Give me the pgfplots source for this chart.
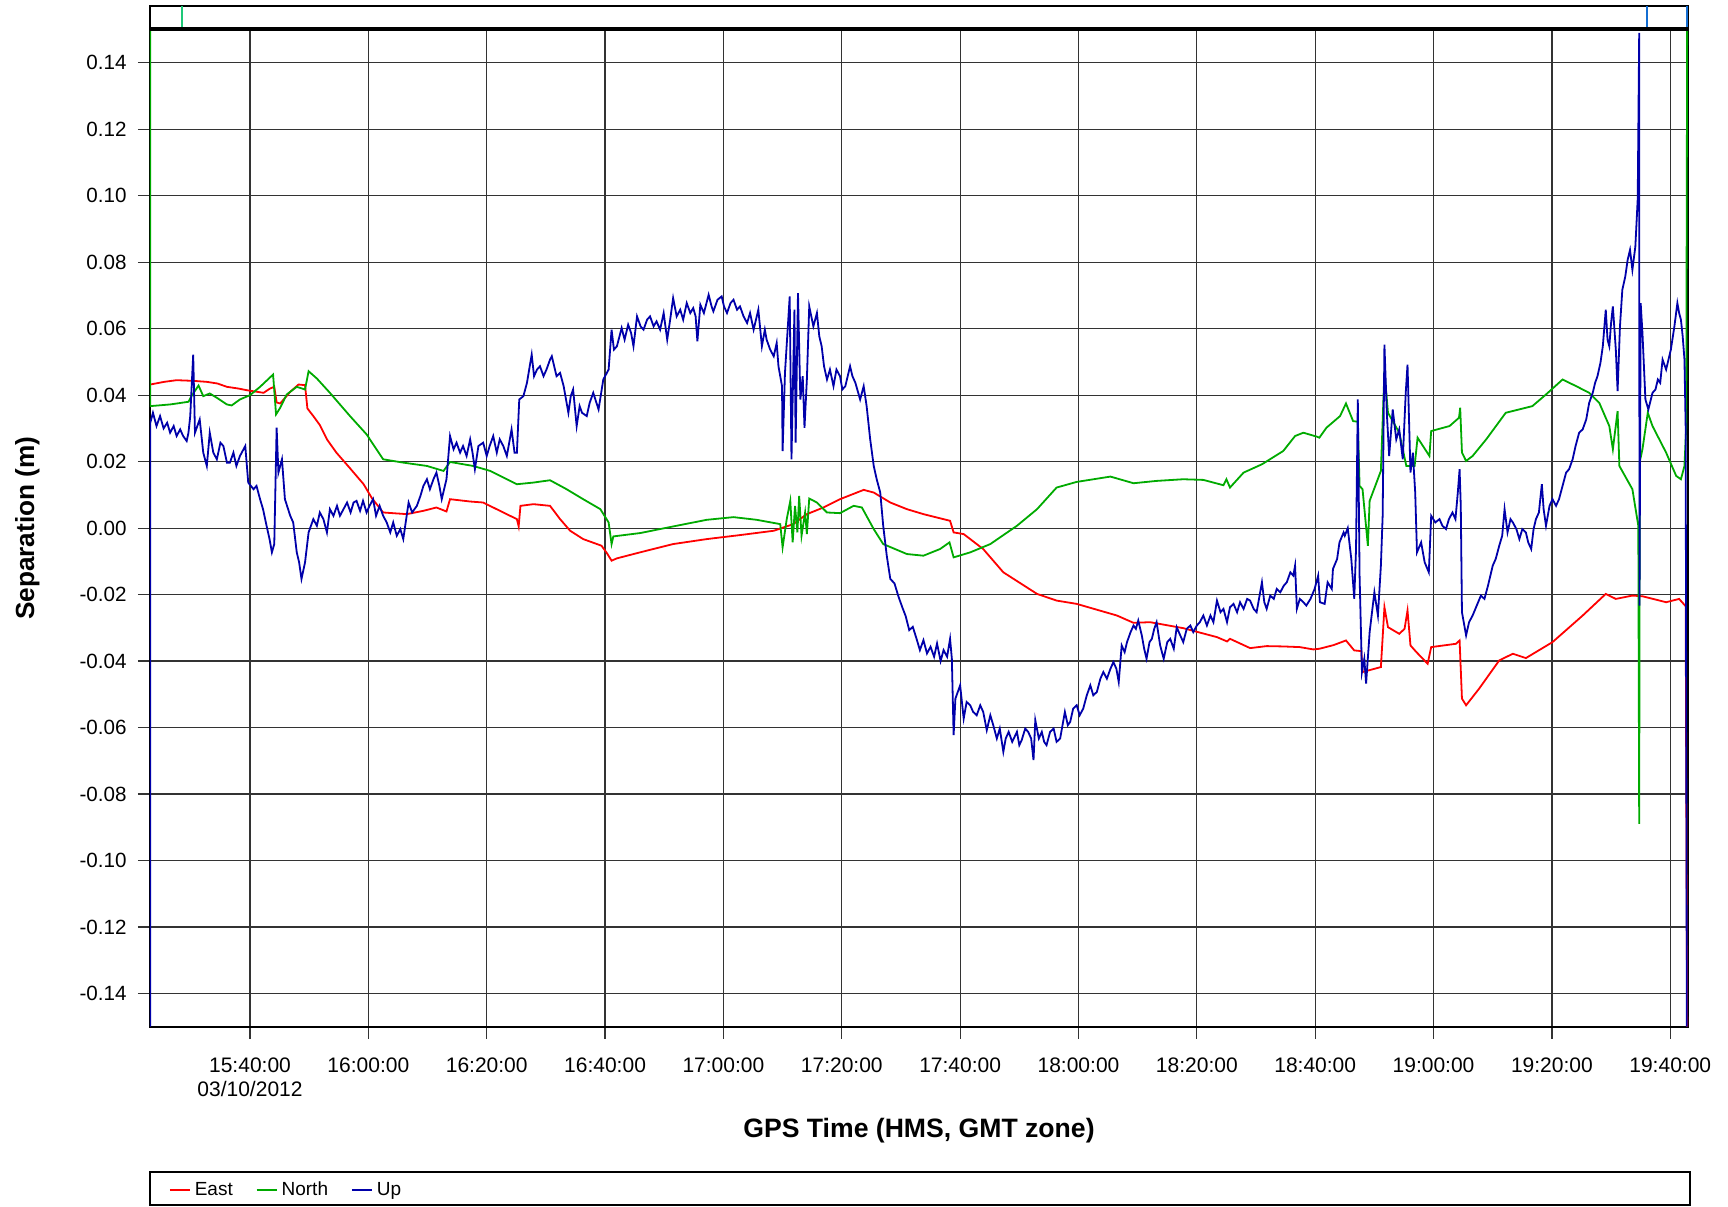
\documentclass[border=0pt]{standalone}
\usepackage{pgfplots}
\pgfplotsset{compat=1.18}
\usepackage{fontspec}
\setmainfont{Liberation Sans}
\definecolor{eastc}{RGB}{255,0,0}
\definecolor{northc}{RGB}{0,170,0}
\definecolor{upc}{RGB}{0,0,170}
\definecolor{stripg}{RGB}{30,200,120}
\definecolor{stripb}{RGB}{20,110,210}
\begin{document}
\begin{tikzpicture}
\useasboundingbox (-75pt,-89.65pt) rectangle (789pt,513.35pt);
\begin{axis}[
  name=main, at={(0,0)}, anchor=south west,
  scale only axis, width=769pt, height=498.6pt,
  xmin=23.1, xmax=283.0, ymin=-0.15, ymax=0.15,
  xtick={40,60,80,100,120,140,160,180,200,220,240,260,280},
  xticklabels={{15:40:00\\03/10/2012},16:00:00,16:20:00,16:40:00,17:00:00,17:20:00,17:40:00,18:00:00,18:20:00,18:40:00,19:00:00,19:20:00,19:40:00},
  ytick={-0.14,-0.12,-0.10,-0.08,-0.06,-0.04,-0.02,0,0.02,0.04,0.06,0.08,0.10,0.12,0.14},
  yticklabels={-0.14,-0.12,-0.10,-0.08,-0.06,-0.04,-0.02,0.00,0.02,0.04,0.06,0.08,0.10,0.12,0.14},
  tick pos=left, tick align=outside, major tick length=6pt,
  grid=major, major grid style={black!80, line width=0.6pt},
  tick style={black!80, line width=0.6pt},
  axis line style={line width=1pt},
  xticklabel style={align=center, font=\fontsize{10.5}{12.2}\selectfont, yshift=-6pt},
  yticklabel style={font=\fontsize{10.3}{12}\selectfont, xshift=-2.2pt},
  xlabel={GPS Time (HMS, GMT zone)},
  ylabel={Separation (m)},
  every axis x label/.style={at={(axis description cs:0.5,-0.1041)}, anchor=center, font=\bfseries\fontsize{13.3}{15}\selectfont},
  every axis y label/.style={at={(axis description cs:-0.0797,0.5)}, rotate=90, anchor=center, font=\bfseries\fontsize{13.1}{15}\selectfont},
  legend style={at={(axis description cs:0,-0.1639)}, anchor=west, xshift=9.3pt, draw=none, fill=none, inner sep=0pt, font=\fontsize{9.5}{11}\selectfont, legend columns=-1, /tikz/every even column/.append style={column sep=9.5pt}},
  legend image code/.code={\draw[#1] (0pt,0pt) -- (10pt,0pt);},
  every axis plot/.append style={line width=0.9pt},
]
\addplot[eastc] coordinates {(23.15,0.0432)(25.5,0.044)(27.6,0.0445)(30.4,0.0443)(32.7,0.044)(34.5,0.0435)(36.1,0.0425)(38.0,0.042)(39.4,0.0415)(42.3,0.0407)(43.4,0.042)(44.1,0.0425)(44.5,0.0378)(45.1,0.0375)(46.8,0.041)(48.2,0.0432)(49.3,0.043)(49.7,0.036)(50.7,0.0337)(51.8,0.031)(53.0,0.0267)(54.6,0.0227)(56.9,0.018)(59.2,0.0132)(60.6,0.009)(62.5,0.0047)(66.5,0.0042)(69.3,0.0052)(71.5,0.0062)(73.2,0.005)(73.8,0.0087)(77.2,0.008)(79.4,0.0077)(82.8,0.0047)(85.1,0.0027)(85.4,0.0005)(85.7,0.0067)(87.9,0.0072)(90.7,0.0067)(92.4,0.0027)(94.1,-0.0008)(96.3,-0.0033)(99.4,-0.0053)(100.3,-0.0075)(101.1,-0.0098)(102.0,-0.0091)(105.9,-0.0073)(111.5,-0.0048)(117.2,-0.0033)(122.8,-0.0021)(128.5,-0.0008)(131.8,0.0012)(134.1,0.0042)(136.9,0.0062)(139.7,0.0087)(143.7,0.0115)(145.4,0.0107)(148.2,0.0077)(151.0,0.0057)(153.8,0.0042)(158.3,0.0022)(158.9,-0.0013)(160.6,-0.0018)(163.9,-0.0063)(167.3,-0.0133)(173.0,-0.0198)(176.3,-0.0218)(179.7,-0.0228)(186.5,-0.0263)(189.3,-0.0285)(192.1,-0.0283)(197.7,-0.0301)(203.4,-0.0328)(205.1,-0.0341)(205.6,-0.0333)(209.0,-0.0361)(211.8,-0.0355)(214.6,-0.0356)(217.4,-0.0358)(219.7,-0.0365)(220.7,-0.0363)(223.1,-0.0352)(225.2,-0.0338)(226.6,-0.0368)(227.8,-0.037)(228.0,-0.0433)(231.1,-0.0418)(231.7,-0.0238)(232.3,-0.0298)(234.2,-0.0318)(235.1,-0.0303)(235.6,-0.0248)(236.1,-0.0353)(237.1,-0.0373)(239.0,-0.0408)(239.6,-0.0358)(243.8,-0.0348)(244.4,-0.0338)(244.8,-0.0513)(245.5,-0.0533)(247.7,-0.0483)(251.1,-0.0398)(253.4,-0.0378)(255.6,-0.0391)(260.1,-0.0343)(265.2,-0.0263)(269.1,-0.0198)(270.8,-0.0213)(273.6,-0.0203)(275.3,-0.0205)(279.3,-0.0223)(281.5,-0.0213)(282.6,-0.0235)(282.85,-0.15)};
\addlegendentry{East}
\addplot[northc] coordinates {(23.12,0.15)(23.15,0.0367)(26.5,0.0372)(29.6,0.038)(30.1,0.0397)(31.3,0.0429)(32.1,0.0397)(33.2,0.0405)(34.4,0.0392)(36.1,0.0372)(36.9,0.0369)(38.3,0.0387)(40.0,0.04)(41.7,0.0425)(43.9,0.0462)(44.4,0.0342)(45.1,0.0362)(46.2,0.0402)(47.9,0.0425)(49.3,0.0417)(49.9,0.0472)(51.3,0.045)(53.5,0.0407)(56.9,0.0337)(59.7,0.0282)(62.5,0.0207)(65.9,0.0197)(69.9,0.0187)(72.7,0.0172)(73.8,0.0199)(77.7,0.0187)(80.6,0.0172)(85.1,0.0132)(87.9,0.0137)(90.7,0.0144)(93.5,0.0117)(96.3,0.0087)(99.2,0.0057)(100.6,0.0017)(101.1,-0.0048)(101.4,-0.0025)(105.9,-0.0015)(111.5,0.0005)(117.2,0.0025)(121.7,0.0033)(125.6,0.0025)(129.6,0.0012)(130.0,-0.0058)(130.7,0.0027)(131.3,0.0082)(131.7,-0.0043)(132.1,0.0067)(132.5,-0.0013)(132.8,0.0097)(133.2,-0.0023)(133.8,0.0047)(134.1,-0.0018)(134.5,0.0089)(135.8,0.0077)(137.5,0.0047)(139.7,0.0045)(142.0,0.0067)(143.4,0.0062)(145.4,-0.0003)(147.0,-0.0048)(151.0,-0.0078)(153.8,-0.0083)(156.6,-0.0063)(158.2,-0.0043)(158.9,-0.0088)(161.7,-0.0073)(165.1,-0.0048)(169.6,0.0007)(173.0,0.0057)(176.3,0.0122)(179.7,0.0139)(185.4,0.0155)(189.3,0.0135)(193.2,0.0142)(197.7,0.0147)(201.1,0.0145)(204.5,0.0129)(205.0,0.0147)(205.6,0.0122)(207.9,0.0167)(211.0,0.0192)(214.6,0.0232)(216.6,0.0277)(218.0,0.0287)(220.3,0.0275)(220.7,0.0272)(221.9,0.0302)(224.2,0.0337)(225.2,0.0375)(226.4,0.0322)(227.2,0.032)(227.5,0.0127)(228.0,0.0117)(228.9,-0.0053)(229.2,0.0082)(231.1,0.0172)(231.7,0.0472)(232.3,0.0347)(234.2,0.0287)(235.4,0.0187)(236.8,0.0187)(237.3,0.0272)(239.3,0.0217)(239.6,0.0292)(242.7,0.0307)(244.3,0.0332)(244.5,0.0362)(244.8,0.0227)(245.5,0.0202)(246.6,0.0217)(248.9,0.0267)(252.2,0.0347)(256.7,0.0367)(259.0,0.0402)(261.8,0.0447)(264.1,0.0427)(266.3,0.0407)(268.0,0.0377)(269.7,0.0307)(270.3,0.0237)(271.1,0.0352)(271.4,0.0187)(273.6,0.0117)(274.6,0.0007)(274.75,-0.089)(274.85,0.02)(275.3,0.0237)(276.2,0.0347)(277.0,0.0307)(279.3,0.0227)(281.0,0.0157)(281.8,0.0147)(282.4,0.0187)(282.7,0.0307)(282.85,0.15)};
\addlegendentry{North}
\addplot[upc] coordinates {(23.12,-0.15)(23.15,0.0317)(23.6,0.0347)(24.2,0.0307)(24.8,0.0337)(25.4,0.030)(26.0,0.0317)(26.5,0.0287)(27.1,0.0307)(27.6,0.0277)(28.2,0.0297)(28.7,0.0277)(29.3,0.0262)(29.6,0.0287)(29.9,0.0337)(30.4,0.0522)(30.7,0.0287)(31.5,0.0327)(32.1,0.0227)(32.7,0.0187)(33.2,0.0287)(33.8,0.0227)(34.4,0.0207)(35.0,0.0257)(35.5,0.0247)(36.1,0.0197)(36.6,0.0197)(37.2,0.0227)(37.7,0.0187)(38.3,0.0217)(39.2,0.0247)(39.7,0.0137)(40.6,0.0117)(41.1,0.0127)(41.7,0.0087)(42.2,0.0057)(42.8,0.0007)(43.3,-0.0033)(43.7,-0.0073)(44.1,-0.0048)(44.5,0.0302)(44.8,0.0167)(45.4,0.0207)(45.9,0.0087)(46.8,0.0037)(47.3,0.0017)(47.9,-0.0073)(48.3,-0.0103)(48.7,-0.0153)(49.3,-0.0103)(49.9,-0.0013)(50.7,0.0027)(51.3,0.0007)(51.8,0.0047)(52.4,0.0027)(53.0,-0.0013)(53.5,0.0057)(54.1,0.0037)(54.7,0.0067)(55.2,0.0037)(55.8,0.0057)(56.4,0.0077)(57.0,0.0047)(57.5,0.0077)(58.0,0.0082)(58.6,0.0052)(59.1,0.0082)(59.7,0.0047)(60.2,0.0067)(60.8,0.0087)(61.3,0.0037)(61.9,0.0067)(62.5,0.0037)(63.1,0.0017)(63.7,-0.0013)(64.2,0.0017)(64.8,-0.0023)(65.4,-0.0003)(65.9,-0.0033)(66.8,0.0077)(67.4,0.0047)(68.2,0.0067)(68.8,0.0097)(69.3,0.0127)(69.9,0.0147)(70.4,0.0117)(71.0,0.0147)(71.5,0.0167)(72.0,0.0127)(72.4,0.0087)(73.2,0.0147)(73.8,0.0277)(74.4,0.0237)(74.9,0.0257)(75.5,0.0227)(76.0,0.0247)(76.6,0.0217)(77.2,0.0267)(77.6,0.0227)(78.0,0.0177)(78.6,0.0247)(79.4,0.0257)(80.0,0.0217)(80.5,0.0247)(81.1,0.0277)(81.7,0.0227)(82.2,0.0267)(82.8,0.0247)(83.4,0.0217)(84.2,0.0297)(84.7,0.0227)(85.1,0.0227)(85.5,0.0387)(86.2,0.0397)(86.8,0.0437)(87.6,0.0522)(88.0,0.0457)(88.5,0.0477)(89.0,0.0487)(89.6,0.0457)(90.1,0.0477)(90.7,0.0507)(91.0,0.0517)(91.8,0.0457)(92.4,0.0467)(93.0,0.0427)(93.8,0.0347)(94.2,0.0397)(94.6,0.0417)(95.2,0.0307)(95.7,0.0367)(96.1,0.0347)(96.9,0.0337)(97.4,0.0377)(98.0,0.0407)(98.9,0.0357)(99.7,0.0447)(100.6,0.0477)(101.1,0.0597)(101.5,0.0537)(102.0,0.0547)(102.8,0.0602)(103.3,0.0567)(103.9,0.0612)(104.4,0.0587)(104.8,0.0547)(105.4,0.0637)(106.0,0.0607)(106.5,0.0597)(107.1,0.0627)(107.6,0.0637)(108.2,0.0607)(108.7,0.0622)(109.3,0.0597)(109.9,0.0647)(110.5,0.0567)(111.0,0.0627)(111.5,0.0692)(112.1,0.0637)(112.7,0.0657)(113.2,0.0627)(113.8,0.0677)(114.4,0.0647)(114.9,0.0662)(115.3,0.0637)(115.6,0.0562)(116.1,0.0672)(116.7,0.0647)(117.5,0.0702)(118.0,0.0667)(118.3,0.0652)(119.0,0.0687)(119.7,0.0697)(120.1,0.0667)(120.6,0.0647)(121.2,0.0677)(121.7,0.0687)(122.3,0.0657)(122.8,0.0667)(123.4,0.0637)(124.0,0.0617)(124.5,0.0647)(125.1,0.0597)(125.9,0.0657)(126.5,0.0547)(127.0,0.0597)(127.3,0.0567)(127.9,0.0537)(128.5,0.0517)(129.0,0.0557)(129.3,0.0487)(129.9,0.0427)(130.0,0.0232)(130.4,0.0467)(131.2,0.0697)(131.5,0.0207)(132.0,0.0657)(132.2,0.0257)(132.6,0.0707)(133.0,0.0387)(133.4,0.0457)(133.7,0.0302)(134.1,0.0447)(134.5,0.0667)(135.2,0.0607)(135.8,0.0647)(136.2,0.0577)(136.6,0.0547)(137.0,0.0487)(137.5,0.0447)(138.0,0.0477)(138.6,0.0427)(139.1,0.0477)(139.7,0.0457)(140.1,0.0417)(140.6,0.0427)(141.4,0.0487)(141.8,0.0457)(142.3,0.0437)(143.1,0.0387)(143.7,0.0427)(144.2,0.0367)(144.8,0.0267)(145.4,0.0187)(145.9,0.0147)(146.5,0.0107)(147.0,0.0007)(147.6,-0.0083)(148.2,-0.0153)(148.9,-0.0166)(149.6,-0.0207)(150.2,-0.0237)(150.8,-0.0265)(151.4,-0.0307)(152.0,-0.0297)(152.6,-0.0331)(153.2,-0.0367)(153.8,-0.0337)(154.4,-0.0377)(155.0,-0.0357)(155.6,-0.0387)(156.1,-0.0347)(156.7,-0.040)(157.2,-0.0367)(157.8,-0.0387)(158.3,-0.0333)(158.6,-0.0393)(158.9,-0.0623)(159.2,-0.0513)(160.0,-0.0473)(160.6,-0.0573)(161.1,-0.0523)(161.7,-0.0533)(162.2,-0.0553)(162.8,-0.0563)(163.4,-0.0533)(163.9,-0.0553)(164.5,-0.0608)(165.1,-0.0563)(165.6,-0.0593)(166.2,-0.0633)(166.7,-0.0603)(167.3,-0.0673)(167.7,-0.0633)(168.2,-0.0613)(168.8,-0.0643)(169.6,-0.0613)(170.0,-0.0653)(170.4,-0.0638)(171.0,-0.0603)(171.5,-0.0613)(172.0,-0.0633)(172.4,-0.0698)(172.7,-0.0578)(173.3,-0.0633)(173.8,-0.0613)(174.2,-0.0643)(174.6,-0.0653)(175.2,-0.0613)(175.8,-0.0603)(176.3,-0.0643)(176.9,-0.0633)(177.3,-0.0593)(177.7,-0.0553)(178.2,-0.0593)(178.6,-0.0583)(179.1,-0.0543)(179.7,-0.0533)(180.2,-0.0563)(180.8,-0.0543)(181.4,-0.0503)(182.0,-0.0473)(182.5,-0.0503)(183.1,-0.0493)(183.7,-0.0453)(184.2,-0.0433)(184.8,-0.0453)(185.4,-0.0423)(185.9,-0.0403)(186.4,-0.0423)(186.8,-0.0463)(187.3,-0.0353)(187.8,-0.0373)(188.2,-0.0343)(188.8,-0.0313)(189.3,-0.0293)(189.7,-0.0303)(190.1,-0.0278)(190.7,-0.0323)(191.1,-0.0363)(191.5,-0.0393)(192.0,-0.0343)(192.4,-0.0333)(192.8,-0.0303)(193.2,-0.0283)(193.8,-0.0353)(194.4,-0.0393)(195.0,-0.0343)(195.5,-0.0333)(196.1,-0.0363)(196.6,-0.0298)(197.2,-0.0323)(197.7,-0.0343)(198.3,-0.0303)(198.9,-0.0293)(199.4,-0.0313)(200.0,-0.0293)(200.5,-0.0283)(201.1,-0.0263)(201.7,-0.0293)(202.3,-0.0263)(202.8,-0.0283)(203.4,-0.0218)(204.0,-0.0253)(204.5,-0.0243)(205.1,-0.0283)(205.6,-0.0238)(206.2,-0.0228)(206.8,-0.0253)(207.3,-0.0223)(207.9,-0.0243)(208.5,-0.0213)(209.0,-0.0218)(209.6,-0.0243)(210.1,-0.0253)(210.6,-0.0203)(211.0,-0.0163)(211.4,-0.0223)(211.8,-0.0243)(212.4,-0.0203)(213.0,-0.0213)(213.5,-0.0183)(214.1,-0.0193)(214.7,-0.0173)(215.2,-0.0163)(215.8,-0.0133)(216.3,-0.0143)(216.6,-0.0113)(216.9,-0.0243)(217.4,-0.0213)(218.0,-0.0223)(218.5,-0.0233)(219.2,-0.0213)(219.9,-0.0183)(220.5,-0.0143)(220.8,-0.0223)(221.6,-0.0228)(222.1,-0.0163)(222.8,-0.0183)(223.0,-0.0123)(223.7,-0.0093)(224.1,-0.0043)(224.8,-0.0013)(225.0,-0.0023)(225.5,0.0)(226.1,-0.0093)(226.6,-0.0213)(226.9,-0.0063)(227.2,0.0387)(227.5,-0.0143)(227.9,-0.0433)(228.3,-0.0393)(228.6,-0.0468)(229.2,-0.0313)(230.0,-0.0193)(230.6,-0.0263)(231.1,-0.0113)(231.4,0.0037)(231.7,0.0552)(232.1,0.0347)(232.5,0.0217)(233.1,0.0357)(233.7,0.0267)(234.2,0.0297)(234.8,0.0207)(235.3,0.0407)(235.6,0.0492)(236.1,0.0167)(236.5,0.0227)(236.9,0.0107)(237.2,-0.0073)(237.9,-0.0043)(238.5,-0.0103)(239.2,-0.0133)(239.6,0.0037)(240.3,0.0017)(241.0,0.0027)(241.5,0.0007)(242.1,-0.0003)(242.6,0.0027)(243.2,0.0047)(243.7,0.0027)(244.1,0.0107)(244.4,0.0177)(244.6,0.0067)(244.8,-0.0253)(245.5,-0.0323)(246.0,-0.0283)(246.6,-0.0263)(247.3,-0.0233)(248.0,-0.0203)(248.6,-0.0213)(249.2,-0.0173)(250.0,-0.0113)(250.5,-0.0093)(251.1,-0.0053)(251.6,-0.0023)(252.0,0.0057)(252.5,-0.0013)(253.0,0.0027)(253.4,0.0017)(254.0,-0.0003)(254.5,-0.0033)(255.0,-0.0003)(255.6,-0.0013)(256.0,-0.0043)(256.5,-0.0063)(256.9,-0.0003)(257.3,0.0027)(257.8,0.0047)(258.3,0.0132)(258.6,0.0057)(259.0,0.0007)(259.6,0.0067)(260.1,0.0087)(260.7,0.0067)(261.2,0.0087)(261.8,0.0127)(262.4,0.0167)(262.9,0.0177)(263.5,0.0207)(264.0,0.0247)(264.6,0.0287)(265.2,0.0297)(265.8,0.0327)(266.3,0.0377)(266.9,0.0407)(267.3,0.0437)(267.7,0.0457)(268.2,0.0497)(268.6,0.0547)(269.1,0.0657)(269.4,0.0567)(269.7,0.0547)(270.0,0.0617)(270.3,0.0667)(270.8,0.0537)(271.1,0.0412)(271.5,0.0607)(271.9,0.0717)(272.4,0.0757)(272.8,0.0807)(273.2,0.0837)(273.6,0.0777)(274.1,0.0847)(274.5,0.0990)(274.75,0.149)(274.8,-0.0233)(275.0,0.0677)(275.3,0.0587)(275.8,0.0387)(276.3,0.0357)(277.0,0.0407)(277.5,0.0417)(277.9,0.0447)(278.3,0.0437)(278.7,0.0507)(279.3,0.0477)(280.1,0.0537)(280.7,0.0607)(281.2,0.0677)(281.5,0.0647)(281.8,0.0627)(282.1,0.0577)(282.4,0.0507)(282.6,0.0307)(282.8,-0.15)};
\addlegendentry{Up}
\end{axis}
\begin{axis}[
  at={(0,498.6pt)}, anchor=south west,
  scale only axis, width=769pt, height=11.75pt,
  xmin=23.1, xmax=283.0, ymin=0, ymax=1,
  xtick=\empty, ytick=\empty,
  axis line style={line width=0.9pt},
]
\addplot[stripg, line width=1pt] coordinates {(28.56,0)(28.56,1)};
\addplot[stripb, line width=1pt] coordinates {(276.0,0)(276.0,1)};
\addplot[stripb, line width=1.2pt] coordinates {(282.85,0)(282.85,1)};
\end{axis}
\draw[line width=2pt] (0,498.6pt) -- (769pt,498.6pt);
\draw[line width=1pt] (0,-72.4pt) rectangle (770pt,-88.9pt);
\end{tikzpicture}
\end{document}
